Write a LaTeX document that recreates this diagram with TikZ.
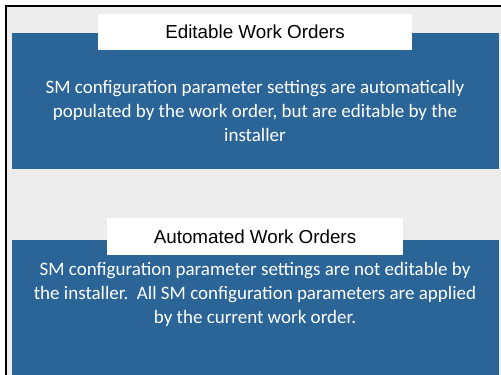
\documentclass[tikz,border=0pt]{standalone}
\usepackage{fontspec}
\setmainfont{Carlito}
\newfontfamily\headfont{Liberation Sans}
\usetikzlibrary{positioning}
\definecolor{panelblue}{RGB}{43, 101, 152}
\definecolor{pagegray}{RGB}{237, 237, 237}

\begin{document}
\begin{tikzpicture}[x=1pt, y=-1pt,
    panel/.style={fill=panelblue},
    headbox/.style={fill=white, inner sep=0pt, text=black,
      font=\headfont\fontsize{18.8}{22}\selectfont},
    bodytext/.style={text=white, align=center, inner sep=0pt,
      font=\fontsize{19}{24}\selectfont}]

  % 画布与背景
  \useasboundingbox (0,0) rectangle (501,375);
  \fill[white] (0,0) rectangle (501,375);
  \fill[pagegray] (6,6) rectangle (501,375);
  \draw[black, line width=2pt] (6,375) -- (6,6) -- (501,6);

  % 上面的面板（可编辑）
  \fill[panel] (12,33) rectangle (499,169);
  \node[headbox, minimum width=314, minimum height=36] (editHead) at (255,32) {Editable Work Orders};
  \node[bodytext] (editBody) at (255,111)
    {SM configuration parameter settings are automatically\\
     populated by the work order, but are editable by the\\
     installer};

  % 下面的面板（自动）
  \fill[panel] (12,240) rectangle (499,375);
  \node[headbox, minimum width=296, minimum height=37] (autoHead) at (255,236.5) {Automated Work Orders};
  \node[bodytext] (autoBody) at (255,294)
    {SM configuration parameter settings are not editable by\\
     the installer.\ \ All SM configuration parameters are applied\\
     by the current work order.};

\end{tikzpicture}
\end{document}
